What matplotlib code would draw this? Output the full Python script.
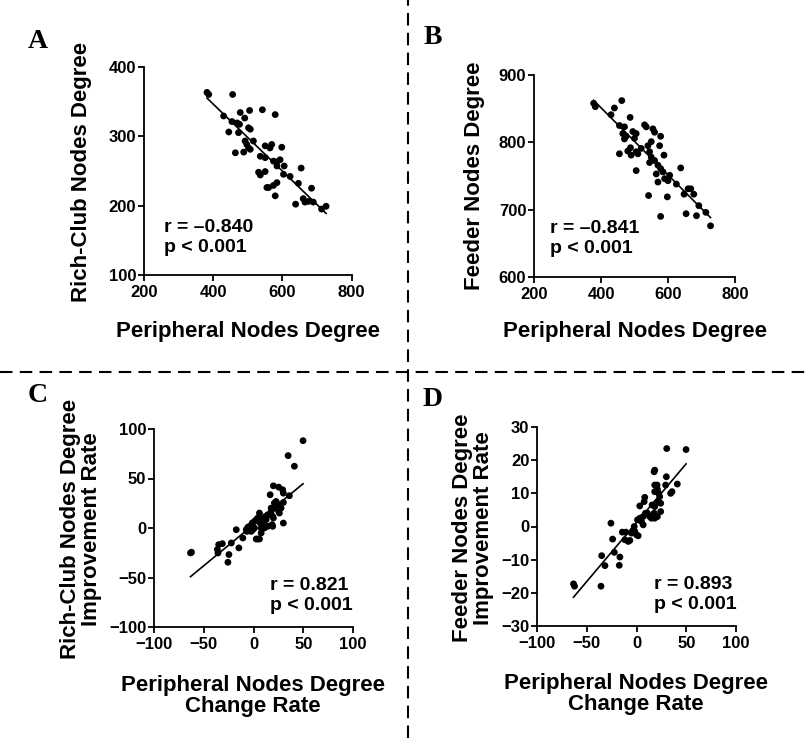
import numpy as np
import matplotlib
matplotlib.use("Agg")
import matplotlib.pyplot as plt
from matplotlib.lines import Line2D

# ---------------- data ----------------
a_x = [382, 387, 456, 430, 478, 505, 542, 579, 491, 454, 469, 476, 445, 473, 502, 507, 492, 516,
       497, 502, 507, 464, 488, 550, 569, 564, 598, 536, 550, 574, 584, 593, 605, 584, 531, 536,
       550, 603, 622, 654, 646, 584, 574, 560, 555, 579, 660, 665, 675, 689, 638, 684, 713, 726]
a_y = [363, 360, 360, 329, 334, 337, 338, 331, 326, 321, 319, 317, 306, 305, 312, 310, 293, 293,
       288, 283, 281, 276, 277, 286, 288, 283, 284, 271, 269, 264, 263, 266, 257, 257, 248, 244,
       249, 245, 242, 254, 232, 233, 229, 226, 226, 214, 210, 205, 206, 205, 202, 225, 195, 199]

b_x = [378, 383, 440, 462, 430, 487, 455, 470, 530, 535, 555, 560, 578, 465, 475, 495, 505, 500,
       470, 540, 550, 575, 455, 480, 490, 505, 510, 520, 545, 588, 550, 545, 560, 570, 578, 585,
       565, 570, 590, 600, 605, 625, 638, 648, 660, 668, 677, 505, 542, 598, 578, 654, 685, 692,
       713, 727, 488]
b_y = [858, 853, 851, 862, 841, 837, 825, 823, 826, 823, 820, 815, 809, 813, 809, 816, 813, 806,
       805, 795, 801, 795, 783, 787, 781, 786, 783, 791, 786, 781, 778, 770, 773, 766, 761, 756,
       753, 741, 746, 743, 751, 738, 762, 723, 731, 731, 723, 758, 721, 719, 690, 694, 691, 706,
       696, 676, 792]

c_x = [-63.3, -62.3, -35, -31.3, -36.3, -35.7, -24.7, -25.7, -22.3, -14.7, -17.3, -10.7, -7.3,
       -5.7, -4, -6.7, -2.3, -0.7, 1, 1, 2.7, 4.3, 6, 6.7, 7.7, 4.3, 2.7, 6, 9.3, 10, 12, 12.7,
       14.3, 16, 17.7, 19.3, 20, 18.7, 19.3, 21, 22.7, 23.7, 26, 25.3, 26, 22, 20, 16.7, 25.3,
       29.3, 30, 36, 30, 30, 14.3, 11, 7.7, -0.7, -1.3, 17.7, 27.7, 49.8, 34.8, 41.1]
c_y = [-25.2, -24.5, -16.8, -15.8, -21.8, -25.2, -26.8, -34.6, -15.1, -20.1, -1.7, -10.1, -1.7,
       0.7, 1.7, -3.4, -3.4, -1.7, 0, 6.7, 8.4, 10.1, 15.1, 5, -5, -11.1, -11.1, -11.1, 3.4, 10.1,
       11.7, 8.4, 13.4, 13.4, 16.8, 11.7, 10.1, 3.4, 1.7, 25.2, 26.8, 21.8, 23.5, 16.8, 15.1, 20.1,
       42.6, 33.6, 41.3, 38.6, 35.2, 32.6, 25.8, 5, 1.7, 0, 0, 1, 5, 20.1, 20.1, 88.2, 73.1, 62.4]

d_x = [-63.3, -62.3, -35.7, -35, -31.7, -25.7, -24, -22.3, -16.7, -17.3, -14.3, -10.7, -11.7,
       -8.3, -6.7, -5, -3.3, -2.3, -1.7, 0, 1.7, 1, 3.3, 5, 6.7, 3.3, 6.7, 7.7, 8.3, 9, 11, 13.3,
       15, 17.7, 18.3, 21, 15.7, 18.3, 20, 21.7, 24.3, 24.3, 18.3, 20.7, 18.3, 21, 22.3, 23.3,
       29.3, 30, 34.3, 35.7, 41, 17.7, 18.3, 30.4, 49.8]
d_y = [-17.3, -18, -18, -8.8, -11.8, 1, -3.8, -7.8, -9.2, -11.7, -1.7, -1.7, -4, -4.5, -4.2, -2,
       -1.2, 0, -1.5, -2.5, -2.8, 2, 2.5, 1.5, 0.5, 6.2, 3, 7.5, 8.8, 4, 4, 3, 2.5, 4, 2.5, 3,
       6.5, 6, 7, 7.5, 7, 4.5, 12.5, 12.5, 10.5, 11.2, 10, 9, 12.5, 15, 10, 10.5, 12.8, 16.5, 17,
       23.5, 23.2]

stats_text = ["r = \u20130.840\np < 0.001", "r = \u20130.841\np < 0.001",
              "r = 0.821\np < 0.001", "r = 0.893\np < 0.001"]
panel_letters = ["A", "B", "C", "D"]
y_labels = ["Rich-Club Nodes Degree", "Feeder Nodes Degree",
            "Rich-Club Nodes Degree\nImprovement Rate", "Feeder Nodes Degree\nImprovement Rate"]
x_labels = ["Peripheral Nodes Degree", "Peripheral Nodes Degree",
            "Peripheral Nodes Degree\nChange Rate", "Peripheral Nodes Degree\nChange Rate"]
x_ticks = [[200, 400, 600, 800], [200, 400, 600, 800],
           [-100, -50, 0, 50, 100], [-100, -50, 0, 50, 100]]
y_ticks = [[100, 200, 300, 400], [600, 700, 800, 900],
           [-100, -50, 0, 50, 100], [-30, -20, -10, 0, 10, 20, 30]]

# ---------------- layout (pixels) ----------------
W, H = 806, 738
fig = plt.figure(figsize=(W / 100, H / 100), dpi=100)
SANS = "Liberation Sans"
SERIF = "Liberation Serif"

# axes boxes: left, right, top, bottom in px
boxes = [(144, 351.7, 66.7, 275), (534, 735, 75, 277),
         (154, 353, 429, 627), (537, 736, 427, 626)]
letter_pos = [(38, 42), (433, 38), (38, 396), (433, 399)]
ylab_pos = [(81, 172), (475, 176), (81, 529), (473, 528)]
xlab_pos = [(248, 332), (635, 332), (253, 696), (636, 694)]
text_pos = [(0.096, 0.18), (0.078, 0.19), (0.583, 0.16), (0.586, 0.157)]

datasets = [(a_x, a_y), (b_x, b_y), (c_x, c_y), (d_x, d_y)]

def fx(px):
    return px / W

def fy(py):
    return 1 - py / H

for i, (l, r, t, b) in enumerate(boxes):
    ax = fig.add_axes([fx(l), fy(b), (r - l) / W, (b - t) / H])
    xs = np.array(datasets[i][0], dtype=float)
    ys = np.array(datasets[i][1], dtype=float)
    ax.scatter(xs, ys, s=24, color="black", edgecolors="none", zorder=3)
    k, c0 = np.polyfit(xs, ys, 1)
    xl = np.array([xs.min(), xs.max()])
    ax.plot(xl, k * xl + c0, color="black", lw=1.2, zorder=2)
    ax.set_xlim(x_ticks[i][0], x_ticks[i][-1])
    ax.set_ylim(y_ticks[i][0], y_ticks[i][-1])
    ax.set_xticks(x_ticks[i])
    ax.set_yticks(y_ticks[i])
    for s in ["top", "right"]:
        ax.spines[s].set_visible(False)
    for s in ["left", "bottom"]:
        ax.spines[s].set_linewidth(1.3)
    ax.tick_params(axis="both", direction="out", length=4.5, width=1.3)
    ax.tick_params(axis="y", pad=1)
    ax.tick_params(axis="x", pad=2.5)
    for lab in ax.get_xticklabels() + ax.get_yticklabels():
        lab.set_fontfamily(SANS)
        lab.set_fontweight("bold")
        lab.set_fontsize(12)
    ax.text(text_pos[i][0], text_pos[i][1], stats_text[i], transform=ax.transAxes,
            ha="left", va="center", fontsize=14, fontweight="bold", family=SANS,
            linespacing=1.25)

    fig.text(fx(letter_pos[i][0]), fy(letter_pos[i][1]), panel_letters[i],
             ha="center", va="center", fontsize=20, fontweight="bold", family=SERIF)
    fig.text(fx(ylab_pos[i][0]), fy(ylab_pos[i][1]), y_labels[i], rotation=90,
             ha="center", va="center", fontsize=16, fontweight="bold", family=SANS,
             linespacing=1.0, multialignment="center")
    fig.text(fx(xlab_pos[i][0]), fy(xlab_pos[i][1]), x_labels[i],
             ha="center", va="center", fontsize=16, fontweight="bold", family=SANS,
             linespacing=1.05, multialignment="center")

# dashed separators
fig.add_artist(Line2D([0, 1], [fy(372), fy(372)], transform=fig.transFigure,
                      color="black", lw=1.5, linestyle=(0, (6, 3.5))))
fig.add_artist(Line2D([fx(408), fx(408)], [0, 1], transform=fig.transFigure,
                      color="black", lw=1.5, linestyle=(0, (6, 3.5))))

fig.savefig("out.png", dpi=100)
